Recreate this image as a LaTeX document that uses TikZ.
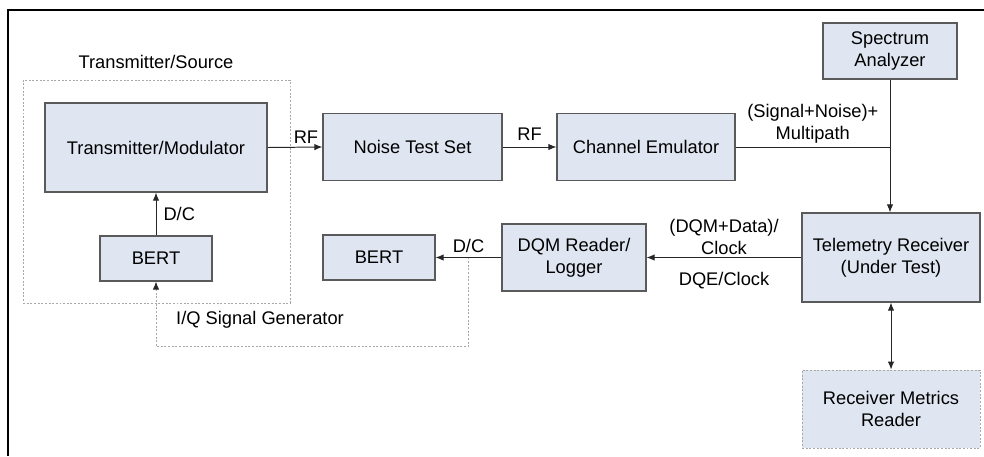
\documentclass[tikz,border=0pt]{standalone}
\usepackage{fontspec}
\setmainfont{Liberation Sans}
\usetikzlibrary{arrows.meta,calc,positioning}
\definecolor{BenchFill}{HTML}{DFE6F1}
\definecolor{BenchEdge}{HTML}{5A5A5A}
\definecolor{BenchGuide}{HTML}{A8A8A8}
\definecolor{BenchWire}{HTML}{262626}

\begin{document}
\begin{tikzpicture}[
  x=0.025cm,y=-0.025cm,
  font=\fontsize{13}{15.6}\selectfont,
  unit/.style={draw=BenchEdge,fill=BenchFill,line width=0.8pt,align=center,inner sep=2pt},
  ghostunit/.style={unit,draw=BenchGuide,line width=0.6pt,dash pattern=on 1.4pt off 1.2pt},
  group/.style={draw=BenchGuide,line width=0.6pt,dash pattern=on 1.4pt off 1.2pt},
  wire/.style={draw=BenchWire,line width=0.7pt},
  signal/.style={wire,-{Latex[length=2mm,width=1.6mm]}},
  twoway/.style={wire,{Latex[length=2mm,width=1.6mm]}-{Latex[length=2mm,width=1.6mm]}},
  iqpath/.style={group,-{Latex[length=2mm,width=1.6mm,color=BenchWire]}},
  tag/.style={align=center,inner sep=1pt}
]
  \useasboundingbox (0,0) rectangle (984,456);
  % Outer frame (only the top and left edges are in view).
  \draw[black,line width=1.5pt] (984,10) -- (8,10) -- (8,456);

  % Transmitter side.
  \node[group,minimum width=6.675cm,minimum height=5.575cm] (src) at (156.5,191.5) {};
  \node[tag] (srclabel) at (156,62) {Transmitter/Source};
  \node[unit,minimum width=5.55cm,minimum height=2.225cm] (txmod) at (156,147.5) {Transmitter/Modulator};
  \node[unit,minimum width=2.8cm,minimum height=1.125cm] (bertL) at (156,258.5) {BERT};

  % RF chain.
  \node[unit,minimum width=4.475cm,minimum height=1.675cm] (noise) at (412.5,147) {Noise Test Set};
  \node[unit,minimum width=4.45cm,minimum height=1.675cm] (chan) at (646,147) {Channel Emulator};
  \node[unit,minimum width=3.35cm,minimum height=1.4cm] (spec) at (890,51) {Spectrum\\Analyzer};

  % Receiver side.
  \node[unit,minimum width=4.45cm,minimum height=2.225cm] (telrx) at (891,257.5) {Telemetry Receiver\\(Under Test)};
  \node[unit,minimum width=3.6cm,minimum height=1.675cm] (dqm) at (574,257.5) {DQM Reader/\\Logger};
  \node[unit,minimum width=2.8cm,minimum height=1.125cm] (bertR) at (379,257.5) {BERT};
  \node[ghostunit,minimum width=4.45cm,minimum height=1.95cm] (metrics) at (891,409) {Receiver Metrics\\Reader};

  % Connections.
  \draw[signal] (txmod.east) -- (noise.west)
    node[tag,pos=0.7,above=1pt] (rf1) {RF};
  \draw[signal] (noise.east) -- (chan.west)
    node[tag,midway,above=3pt] (rf2) {RF};
  \coordinate (tee) at (spec.south |- chan.east);
  \draw[wire] (chan.east) -- (tee)
    node[tag,midway,above=1pt] (mix) {(Signal+Noise)+\\Multipath};
  \draw[signal] (spec.south) -- (tee) -- (spec.south |- telrx.north);
  \draw[signal] (telrx.west) -- (dqm.east)
    node[tag,midway,above=1pt] (dqmdata) {(DQM+Data)/\\Clock}
    node[tag,midway,below=9pt] (dqe) {DQE/Clock};
  \draw[signal] (dqm.west) -- (bertR.east)
    node[tag,pos=0.5,above=2pt] (dc2) {D/C};
  \draw[signal] (bertL.north) -- (txmod.south)
    node[tag,midway,right=4pt] (dc1) {D/C};
  \draw[twoway] (telrx.south) -- (metrics.north);

  % I/Q generator loop.
  \coordinate (iqtap) at ($(bertR.east)!0.5!(dqm.west)$);
  \coordinate (iqcorner) at ($(iqtap)+(0,89)$);
  \draw[iqpath] (iqtap) -- (iqcorner) -- (iqcorner -| bertL.south) -- (bertL.south);
  \node[tag] (iqlabel) at (260,320) {I/Q Signal Generator};
\end{tikzpicture}
\end{document}
